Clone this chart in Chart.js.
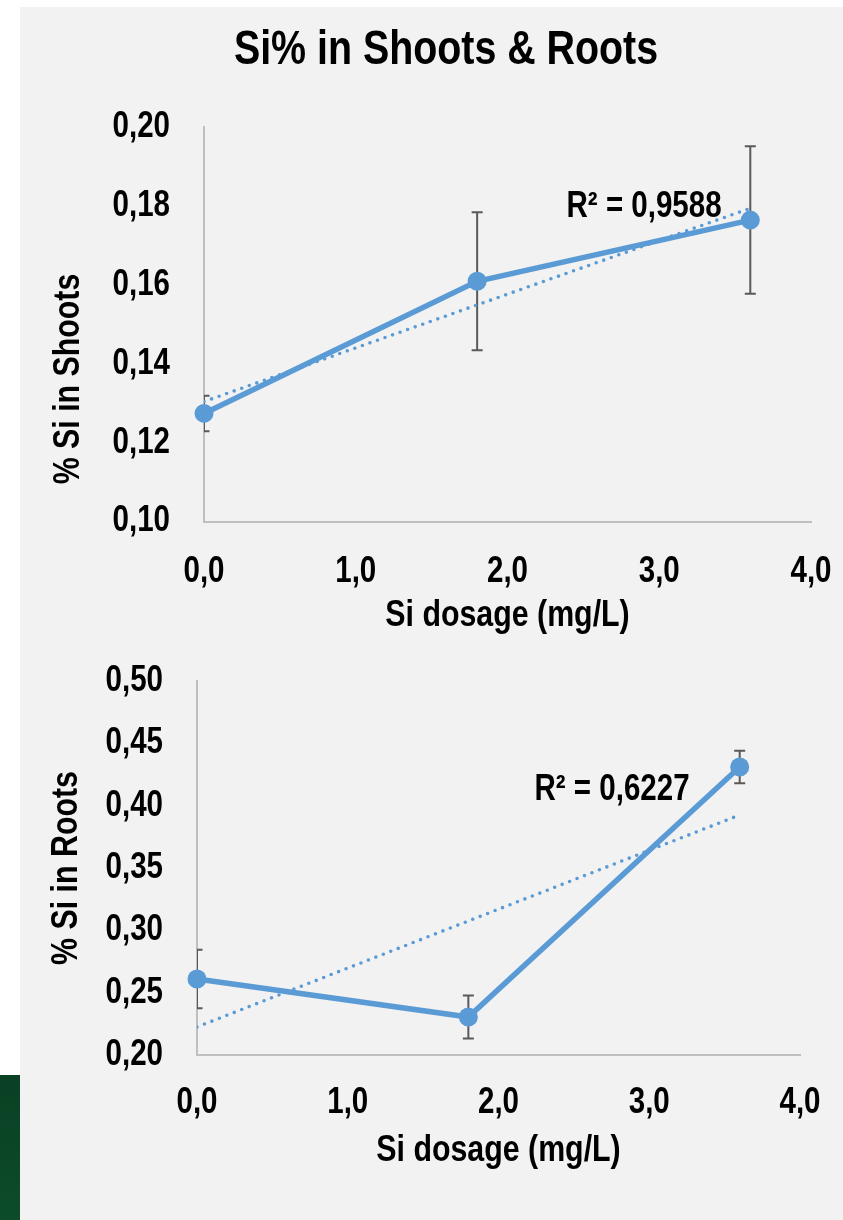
<!DOCTYPE html>
<html><head><meta charset="utf-8">
<script src="https://cdn.jsdelivr.net/npm/chart.js@4.4.1/dist/chart.umd.min.js"></script>
<style>
html,body{margin:0;padding:0;}
body{width:843px;height:1220px;position:relative;background:#fff;overflow:hidden;
 font-family:'Liberation Sans',Arial,sans-serif;}
#panel{position:absolute;left:20px;top:7px;width:823px;height:1213px;background:#f2f2f2;}
#green{position:absolute;left:0;top:1075px;width:20px;height:145px;background:linear-gradient(#0a4024,#0c4c2a);}
#title{position:absolute;left:0;top:24px;width:892px;text-align:center;font-weight:bold;font-size:48px;line-height:48px;color:#000;transform:scaleX(0.82);transform-origin:446px 0;}
#ytitle1{position:absolute;left:-83px;top:357px;width:300px;height:44px;line-height:44px;text-align:center;font-weight:bold;font-size:37px;color:#000;transform:rotate(-90deg) scaleX(0.82);transform-origin:150px 22px;white-space:nowrap;}
#c1wrap{position:absolute;left:0;top:0;width:843px;height:650px;}
#c2wrap{position:absolute;left:0;top:640px;width:843px;height:580px;}
</style></head>
<body>
<div id="panel"></div>
<div id="green"></div>
<div id="c1wrap"><canvas id="c1" width="843" height="650"></canvas></div>
<div id="c2wrap"><canvas id="c2" width="843" height="580"></canvas></div>
<div id="title">Si% in Shoots &amp; Roots</div>
<div id="ytitle1">% Si in Shoots</div>
<script>
// ---- data ----
const dosage = [0, 1.8, 3.6];
const shootSi = [0.1274, 0.1609, 0.1764];
const shootErr = [0.0045, 0.0175, 0.0187];
const shootTrendX = [0, 3.6];
const shootTrendY = [0.1304, 0.1794];
const shootR2 = 'R² = 0,9588';
const shootR2Pos = [2.9, 0.1796];

const rootSi = [0.261, 0.2305, 0.431];
const rootErr = [0.0235, 0.0172, 0.0130];
const rootTrendX = [0, 3.6];
const rootTrendY = [0.2225, 0.3925];
const rootR2 = 'R² = 0,6227';
const rootR2Pos = [2.753, 0.4126];

const xTicks = [0, 1, 2, 3, 4];
const shootYTicks = [0.10, 0.12, 0.14, 0.16, 0.18, 0.20];
const rootYTicks = [0.20, 0.25, 0.30, 0.35, 0.40, 0.45, 0.50];

// narrow (Arial Narrow-like) rendering of canvas text: horizontally condensed glyphs
const SX = 0.82;
const _fill = CanvasRenderingContext2D.prototype.fillText;
CanvasRenderingContext2D.prototype.fillText = function (t, x, y, mw) {
  this.save(); this.translate(x, y); this.scale(SX, 1);
  if (mw !== undefined && mw !== null) _fill.call(this, t, 0, 0, mw / SX); else _fill.call(this, t, 0, 0);
  this.restore();
};
const _measure = CanvasRenderingContext2D.prototype.measureText;
CanvasRenderingContext2D.prototype.measureText = function (t) {
  const m = _measure.call(this, t);
  return {width: m.width * SX, actualBoundingBoxAscent: m.actualBoundingBoxAscent,
    actualBoundingBoxDescent: m.actualBoundingBoxDescent,
    actualBoundingBoxLeft: m.actualBoundingBoxLeft * SX, actualBoundingBoxRight: m.actualBoundingBoxRight * SX,
    fontBoundingBoxAscent: m.fontBoundingBoxAscent, fontBoundingBoxDescent: m.fontBoundingBoxDescent};
};

const FONT = "'Liberation Sans',Arial,sans-serif";
const BLUE = '#5b9bd5';
const comma = (v, d) => Number(v).toFixed(d).replace('.', ',');

const errPlugin = {
  id: 'errbars',
  beforeDatasetsDraw(chart, args, opts) {
    const {ctx, chartArea: a, scales: {x, y}} = chart;
    ctx.save();
    ctx.beginPath(); ctx.rect(a.left, a.top - 30, a.right - a.left, a.bottom - a.top + 60); ctx.clip();
    ctx.strokeStyle = '#595959'; ctx.lineWidth = 2;
    opts.xs.forEach((xv, i) => {
      const px = x.getPixelForValue(xv);
      const p1 = y.getPixelForValue(opts.ys[i] + opts.err[i]);
      const p2 = y.getPixelForValue(opts.ys[i] - opts.err[i]);
      ctx.beginPath();
      ctx.moveTo(px, p1); ctx.lineTo(px, p2);
      ctx.moveTo(px - 5.5, p1); ctx.lineTo(px + 5.5, p1);
      ctx.moveTo(px - 5.5, p2); ctx.lineTo(px + 5.5, p2);
      ctx.stroke();
    });
    ctx.restore();
  },
  afterDatasetsDraw(chart, args, opts) {
    const {ctx, scales: {x, y}} = chart;
    ctx.save();
    ctx.font = 'bold 36px ' + FONT;
    ctx.fillStyle = '#000'; ctx.textAlign = 'center'; ctx.textBaseline = 'middle';
    ctx.fillText(opts.label, x.getPixelForValue(opts.labelPos[0]), y.getPixelForValue(opts.labelPos[1]));
    ctx.restore();
  }
};

function makeChart(id, cfg) {
  const toPts = (xs, ys) => xs.map((v, i) => ({x: v, y: ys[i]}));
  const chart = new Chart(document.getElementById(id), {
    type: 'scatter',
    data: {
      datasets: [
        {data: toPts(dosage, cfg.ys), showLine: true, borderColor: BLUE, backgroundColor: BLUE,
         borderWidth: 5.5, pointRadius: 9.5, pointHoverRadius: 9.5, pointBorderWidth: 0, clip: false},
        {data: toPts(cfg.tx, cfg.ty), showLine: true, borderColor: BLUE, borderWidth: 3.6,
         borderDash: [0, 8], borderCapStyle: 'round', pointRadius: 0}
      ]
    },
    options: {
      responsive: false, animation: false, events: [],
      layout: {padding: Object.assign({}, cfg.pad)},
      plugins: {legend: {display: false}, tooltip: {enabled: false},
        errbars: {xs: dosage, ys: cfg.ys, err: cfg.err, label: cfg.label, labelPos: cfg.labelPos}},
      scales: {
        x: {type: 'linear', min: 0, max: 4,
          afterBuildTicks: s => { s.ticks = xTicks.map(v => ({value: v})); },
          afterFit: s => { s.height = cfg.xh; },
          grid: {display: false, drawTicks: true, tickLength: cfg.xpad},
          border: {display: true, color: '#bfbfbf', width: 2},
          ticks: {padding: 0, color: '#000', font: {family: FONT, size: 36, weight: 'bold'},
            maxRotation: 0, callback: v => comma(v, 1)},
          title: {display: true, text: 'Si dosage (mg/L)', color: '#000',
            font: {family: FONT, size: 37, weight: 'bold'}, padding: {top: 0, bottom: cfg.xtpad}}
        },
        y: {type: 'linear', min: cfg.ymin, max: cfg.ymax,
          afterBuildTicks: s => { s.ticks = cfg.yTicks.map(v => ({value: v})); },
          afterFit: s => { s.width = cfg.yw; },
          grid: {display: false, drawTicks: true, tickLength: 34},
          border: {display: true, color: '#bfbfbf', width: 2},
          ticks: {padding: 0, color: '#000', font: {family: FONT, size: 36, weight: 'bold'},
            callback: v => comma(v, 2)},
          title: {display: cfg.ytitle !== '', text: cfg.ytitle, color: '#000',
            font: {family: FONT, size: 37, weight: 'bold'}, padding: {top: cfg.ytpad, bottom: 0}}
        }
      }
    },
    plugins: [errPlugin]
  });
  // nudge layout padding so the plot area lands where the reference has it
  for (let k = 0; k < 3; k++) {
    const a = chart.chartArea, w = cfg.area;
    const p = Object.assign({}, chart.config.options.layout.padding);
    p.top += w.top - a.top;
    p.left += w.left - a.left;
    p.right += a.right - w.right;
    p.bottom += a.bottom - w.bottom;
    chart.config.options.layout.padding = p;
    chart.update();
  }
  return chart;
}

makeChart('c1', {ys: shootSi, err: shootErr, tx: shootTrendX, ty: shootTrendY,
  label: shootR2, labelPos: shootR2Pos, ymin: 0.10, ymax: 0.20, yTicks: shootYTicks,
  ytitle: '', pad: {left: 0, top: 127, right: 32, bottom: 0},
  area: {left: 204, top: 127, right: 811, bottom: 521.5},
  yw: 204, xh: 128.5, xpad: 29, xtpad: 12, ytpad: 45});

makeChart('c2', {ys: rootSi, err: rootErr, tx: rootTrendX, ty: rootTrendY,
  label: rootR2, labelPos: rootR2Pos, ymin: 0.20, ymax: 0.50, yTicks: rootYTicks,
  ytitle: '% Si in Roots', pad: {left: 0, top: 41, right: 43, bottom: 0},
  area: {left: 197, top: 41, right: 800, bottom: 415},
  yw: 197, xh: 165, xpad: 26, xtpad: 47, ytpad: 45});
</script>
</body></html>
